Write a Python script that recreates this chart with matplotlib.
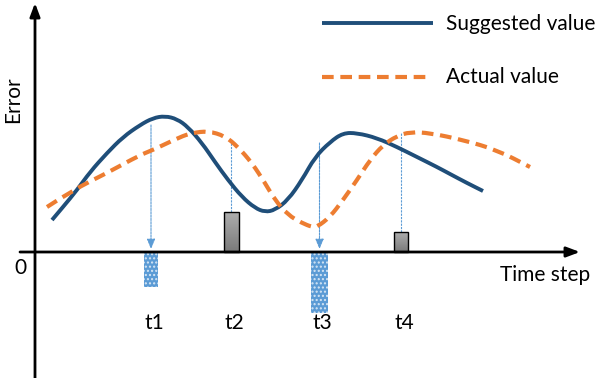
import numpy as np
import matplotlib
matplotlib.use("Agg")
import matplotlib.pyplot as plt
from matplotlib.path import Path
from matplotlib.patches import PathPatch

plt.rcParams["font.family"] = ["Lato", "DejaVu Sans"]

# ── data (time step, error); origin at the axes crossing ───────────────────────
suggested_t = [17, 28, 42, 55, 72, 88, 105, 118, 130, 142, 153, 167, 180, 193, 207,
               220, 230, 240, 253, 267, 280, 295, 308, 322, 342, 362, 382, 402, 415, 432, 448]
suggested_v = [32, 45, 62, 80, 99, 115, 127, 134, 136, 133, 125, 109, 90, 72, 55,
               44, 40, 42, 52, 72, 95, 110, 119, 119, 114, 105, 95, 85, 78, 69, 61]

actual_t = [12, 38, 72, 105, 118, 145, 157, 173, 190, 203, 217, 230, 240, 253, 267,
            277, 282, 295, 308, 322, 335, 348, 362, 375, 395, 428, 462, 495]
actual_v = [45, 62, 79, 97, 102, 115, 119, 121, 116, 105, 89, 69, 52, 37, 29,
            25, 25, 35, 52, 72, 92, 107, 116, 120, 119, 112, 102, 85]

step_labels = ["t1", "t2", "t3", "t4"]
step_t = [116, 196, 284.5, 366]
step_err = [-35, 40, -61, 20]          # difference bars
step_from = [127, 109, 109, 119]       # where the dropped line starts
step_w = [14, 15, 17, 14]


def smooth_path(t, v):
    # quadratic B-spline style path: points act as control points
    p = np.column_stack([t, v]).astype(float)
    verts = [p[0]]
    codes = [Path.MOVETO]
    for i in range(1, len(p) - 1):
        verts += [p[i], (p[i] + p[i + 1]) / 2]
        codes += [Path.CURVE3, Path.CURVE3]
    verts.append(p[-1])
    codes.append(Path.LINETO)
    return Path(verts, codes)


# ── figure ─────────────────────────────────────────────────────────────────────
fig = plt.figure(figsize=(6.07, 3.78), dpi=100)
ax = fig.add_axes([0, 0, 1, 1])
ax.axis("off")

# axes with arrowheads
ax.annotate("", xy=(545, 0), xytext=(-15, 0),
            arrowprops=dict(arrowstyle="-|>,head_length=0.8,head_width=0.3",
                            color="black", lw=2, shrinkA=0, shrinkB=0))
ax.annotate("", xy=(0, 249), xytext=(0, -126),
            arrowprops=dict(arrowstyle="-|>,head_length=0.8,head_width=0.3",
                            color="black", lw=2, shrinkA=0, shrinkB=0))

# curves
ax.add_patch(PathPatch(smooth_path(suggested_t, suggested_v), fill=False,
                       edgecolor="#1f4e79", lw=2.8, capstyle="butt", zorder=3))
ax.add_patch(PathPatch(smooth_path(actual_t, actual_v), fill=False,
                       edgecolor="#ed7d31", lw=3, ls=(0, (2.8, 1.6)),
                       capstyle="butt", zorder=3))

# gradient used for the grey bars
grad = np.linspace(0.68, 0.48, 64).reshape(-1, 1)

# bars and drop lines
for lab, t, e, top, w in zip(step_labels, step_t, step_err, step_from, step_w):
    if e < 0:
        ax.bar(t, e, width=w, color="#5b9bd5", edgecolor="#d6e6f5",
               hatch="....", lw=0, zorder=2)
        ax.annotate("", xy=(t, 3), xytext=(t, top),
                    arrowprops=dict(arrowstyle="-|>,head_length=0.6,head_width=0.25",
                                    color="#5b9bd5", lw=0.8, ls=(0, (2, 1)),
                                    shrinkA=0, shrinkB=0), zorder=2)
    else:
        b = ax.bar(t, e, width=w, facecolor="none", edgecolor="black", lw=1, zorder=2.5)[0]
        im = ax.imshow(grad, cmap="gray", vmin=0, vmax=1, aspect="auto",
                       extent=[t - w / 2, t + w / 2, 0, e], zorder=2)
        im.set_clip_path(b)
        ax.plot([t, t], [e, top], color="#5b9bd5", lw=0.8, ls=(0, (2, 1)), zorder=2)
    ax.text(t + 3, -71, lab, fontsize=15, ha="center", va="center")

# texts
ax.text(-15, -16, "0", fontsize=15, ha="center", va="center")
ax.text(510, -23, "Time step", fontsize=15, ha="center", va="center")
ax.text(-22, 152, "Error", fontsize=15, rotation=90, ha="center", va="center")

# legend drawn by hand
ax.plot([287, 398], [229, 229], color="#1f4e79", lw=2.8, solid_capstyle="butt")
ax.plot([287, 395], [175, 175], color="#ed7d31", lw=3, dashes=[2.8, 1.6],
        dash_capstyle="butt")
ax.text(411, 228, "Suggested value", fontsize=15, ha="left", va="center")
ax.text(411, 175, "Actual value", fontsize=15, ha="left", va="center")

ax.set_xlim(-35, 572)
ax.set_ylim(-126, 252)
fig.savefig("out.png", dpi=100)
